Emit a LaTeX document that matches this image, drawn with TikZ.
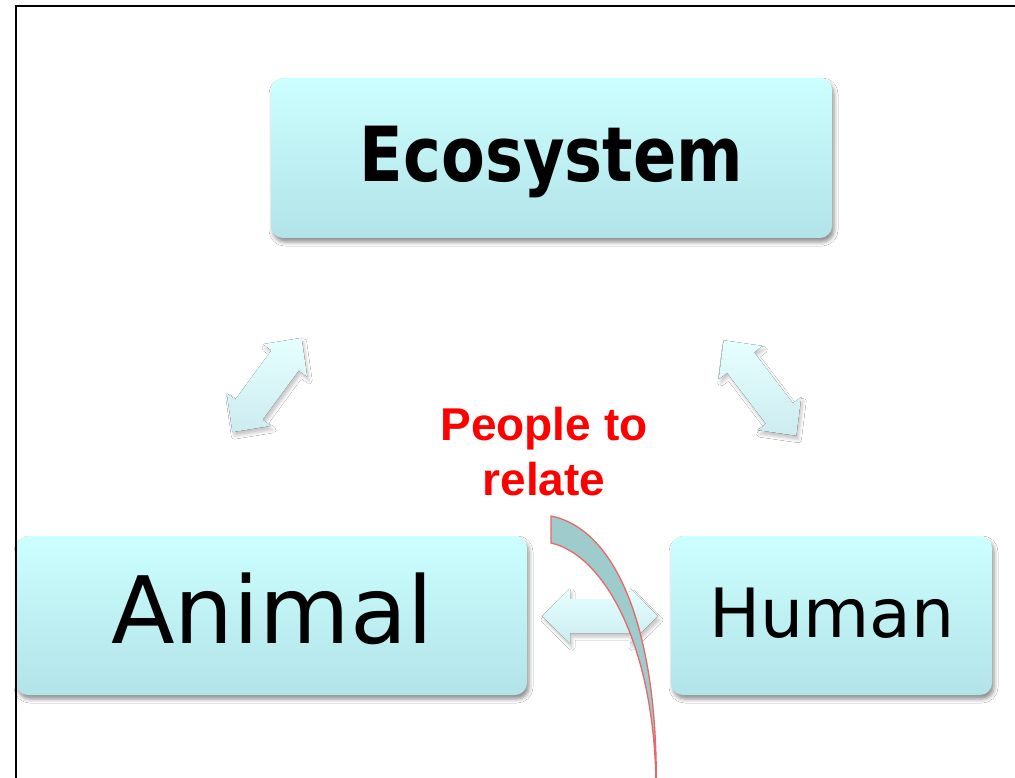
\documentclass[tikz,border=0pt]{standalone}
\usepackage{fontspec}
\setmainfont{DejaVu Sans}
\newfontfamily\calloutfont{Liberation Sans}
\newfontfamily\titlefont[FakeStretch=0.84]{DejaVu Sans}
\usetikzlibrary{shadows.blur}

\definecolor{boxtop}{RGB}{204,255,255}
\definecolor{boxbot}{RGB}{178,227,232}
\definecolor{arrtop}{RGB}{230,255,255}
\definecolor{arrbot}{RGB}{204,236,240}
\definecolor{callfill}{RGB}{158,203,203}
\definecolor{callline}{RGB}{232,104,106}
\definecolor{callred}{RGB}{255,0,0}

\tikzset{
  conceptbox/.style={rectangle, rounded corners=12pt, draw=none, inner sep=0pt,
    top color=boxtop, bottom color=boxbot,
    blur shadow={shadow xshift=2pt, shadow yshift=-4pt, shadow blur radius=4pt, shadow opacity=45}},
  boxlabel/.style={anchor=base, inner sep=0pt, text=black},
  pics/fatarrow/.style={code={
    \fill[top color=arrtop, bottom color=arrbot,
      blur shadow={shadow xshift=2pt, shadow yshift=-4pt, shadow blur radius=3pt, shadow opacity=22}]
      ({-#1/2},0) -- ({-#1/2+28},-27.5) -- ({-#1/2+28},-17) -- ({#1/2-28},-17)
      -- ({#1/2-28},-27.5) -- ({#1/2},0) -- ({#1/2-28},27.5) -- ({#1/2-28},17)
      -- ({-#1/2+28},17) -- ({-#1/2+28},27.5) -- cycle;
  }}
}

\begin{document}
\begin{tikzpicture}[x=1pt,y=-1pt]
  \useasboundingbox (0,0) rectangle (1015,778);
  \clip (0,0) rectangle (1015,778);
  \fill[white] (0,0) rectangle (1015,778);

  % concept boxes
  \node[conceptbox, minimum width=561pt, minimum height=160pt] (eco) at (551.5,158) {};
  \node[conceptbox, minimum width=511pt, minimum height=159pt] (animal) at (271.5,615.5) {};
  \node[conceptbox, minimum width=321pt, minimum height=159pt] (human) at (831.5,615.5) {};

  \node[boxlabel, font=\titlefont\bfseries\fontsize{76}{80}\selectfont] (ecotext) at (551.5,182) {Ecosystem};
  \node[boxlabel, font=\fontsize{93}{100}\selectfont] (animaltext) at (272,643) {Animal};
  \node[boxlabel, font=\fontsize{68}{74}\selectfont] (humantext) at (832,637) {Human};

  % two-headed arrows between the concepts
  \pic[rotate=53.7] at (267,385) {fatarrow=117};
  \pic[rotate=-52.7] at (760,388) {fatarrow=120};
  \pic at (600,616) {fatarrow=116};

  % red label
  \node[align=center, inner sep=0pt, text=callred,
        font=\calloutfont\bfseries\fontsize{46}{55}\selectfont, anchor=base] (people) at (544,495) {People to\\relate};

  % curved callout pointer
  \filldraw[fill=callfill, draw=callline, line width=1.3pt, line join=round]
    (551,516) .. controls (620,530) and (660,640) .. (656,800)
    .. controls (658,650) and (605,555) .. (551,543) -- cycle;

  % page frame
  \draw[line width=2pt, black] (15.5,800) -- (15.5,6.5) -- (1030,6.5);
\end{tikzpicture}
\end{document}
